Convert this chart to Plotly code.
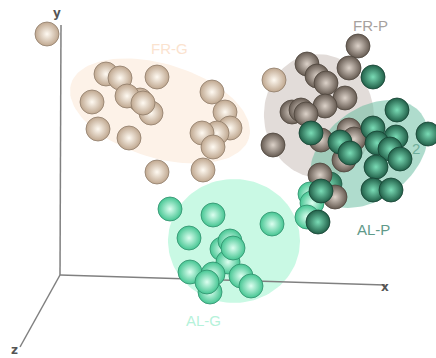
import numpy as np
import plotly.graph_objects as go

# group points
frg_x = [47, 106, 120, 157, 92, 98, 129, 140, 127, 151, 143, 157, 203, 212, 225, 230, 217, 202, 213, 274]
frg_y = [34, 74, 78, 77, 102, 129, 138, 100, 96, 113, 103, 172, 170, 92, 112, 128, 133, 133, 147, 80]
alp_back_x = [330]
alp_back_y = [184]
frp_x = [358, 349, 307, 317, 326, 345, 292, 301, 325, 306, 273, 349, 354, 321, 344, 320, 335]
frp_y = [46, 68, 64, 76, 83, 98, 112, 110, 106, 114, 145, 130, 139, 140, 160, 175, 197]
alg_x = [170, 213, 189, 222, 272, 230, 228, 190, 213, 210, 207, 233, 241, 251, 310, 312, 307]
alg_y = [209, 215, 238, 249, 224, 241, 262, 272, 274, 292, 282, 248, 276, 286, 194, 203, 217]
alp_x = [373, 397, 428, 311, 373, 340, 396, 377, 390, 350, 400, 376, 373, 391, 321, 318]
alp_y = [77, 110, 134, 133, 128, 142, 137, 143, 149, 153, 159, 167, 190, 190, 191, 222]

# cluster regions: centre x, centre y, semi-axis a, semi-axis b, tilt degrees
region_names = ["FR-G", "AL-G", "FR-P", "AL-P"]
region_cx = [160, 234, 319, 369]
region_cy = [111, 241, 116, 154]
region_a = [93, 66, 62, 66]
region_b = [47, 62, 55, 45]
region_tilt = [17, 0, 85, -38]
region_color = ["#fdf2e8", "#c9f9e4", "#e2dcd9", "rgba(95,185,155,0.5)"]

# 3D-looking axes: origin and axis ends
origin = (60, 275)
axis_end_x = [385, 61, 20]
axis_end_y = [285, 25, 347]
axis_names = ["x", "y", "z"]
axis_label_x = [385, 57, 14]
axis_label_y = [287, 13, 350]

# text labels
label_text = ["FR-G", "FR-P", "AL-P", "AL-G", "2"]
label_x = [169, 370, 373, 203, 416]
label_y = [48, 25, 229, 320, 148]
label_color = ["#fbe3cf", "#a6a19e", "#5f9a8a", "#b5f2da", "#6fae9b"]

fig = go.Figure()

t = np.linspace(0, 2 * np.pi, 120)
for i, name in enumerate(region_names):
    th = np.radians(region_tilt[i])
    ex = region_a[i] * np.cos(t)
    ey = region_b[i] * np.sin(t)
    fig.add_trace(go.Scatter(
        x=region_cx[i] + ex * np.cos(th) - ey * np.sin(th),
        y=region_cy[i] + ex * np.sin(th) + ey * np.cos(th),
        mode="lines", fill="toself", fillcolor=region_color[i],
        line=dict(width=0), hoverinfo="skip", name=name, showlegend=False))

for ex, ey in zip(axis_end_x, axis_end_y):
    fig.add_trace(go.Scatter(
        x=[origin[0], ex], y=[origin[1], ey], mode="lines",
        line=dict(color="#808080", width=1.5), hoverinfo="skip", showlegend=False))


def balls(x, y, centre, edge, line):
    fig.add_trace(go.Scatter(
        x=x, y=y, mode="markers", hoverinfo="skip", showlegend=False,
        marker=dict(size=24, color=edge,
                    gradient=dict(type="radial", color=centre),
                    line=dict(color=line, width=0.8))))


balls(frg_x, frg_y, "#fffaf2", "#bfa78f", "#8f7c6a")
balls(alp_back_x, alp_back_y, "#6fcfa8", "#2a6f55", "#1f5a45")
balls(frp_x, frp_y, "#dcd2c9", "#665b52", "#4f463e")
balls(alg_x, alg_y, "#dcfff0", "#45c592", "#2f8f6c")
balls(alp_x, alp_y, "#7adcb6", "#215f48", "#174334")

for i, txt in enumerate(label_text):
    fig.add_annotation(x=label_x[i], y=label_y[i], text=txt, showarrow=False,
                       font=dict(family="Liberation Sans", size=15, color=label_color[i]))
for i, txt in enumerate(axis_names):
    fig.add_annotation(x=axis_label_x[i], y=axis_label_y[i], text=f"<b>{txt}</b>", showarrow=False,
                       font=dict(family="DejaVu Sans", size=12, color="#555555"))

fig.update_layout(
    width=436, height=358, margin=dict(l=0, r=0, t=0, b=0),
    paper_bgcolor="white", plot_bgcolor="white",
    xaxis=dict(range=[0, 436], visible=False, fixedrange=True),
    yaxis=dict(range=[358, 0], visible=False, fixedrange=True),
)
fig.write_html("out.html", config=dict(displayModeBar=False),
               post_script="document.body.style.margin='0';document.documentElement.style.overflow='hidden';")
